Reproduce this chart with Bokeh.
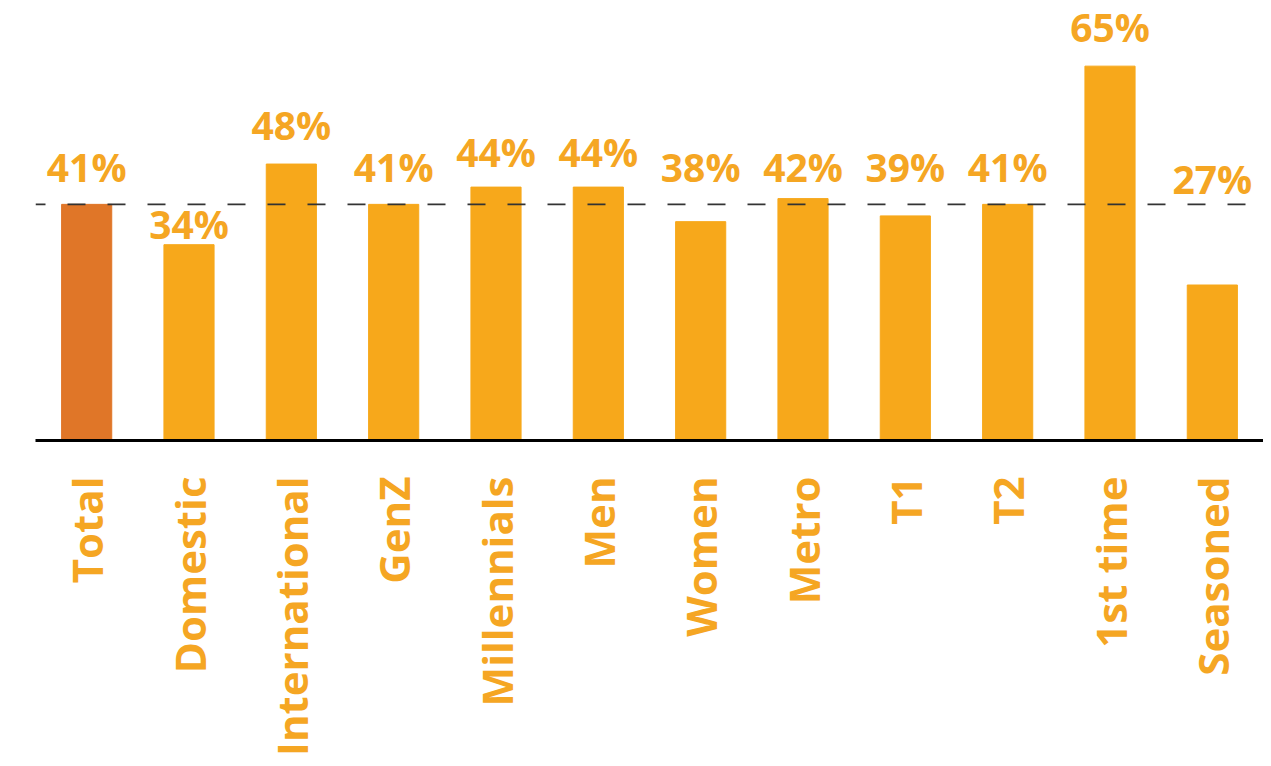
import math
from bokeh.plotting import figure
from bokeh.models import ColumnDataSource, Span, FactorRange, Range1d
from bokeh.core.properties import value
from bokeh.embed import file_html
from bokeh.resources import INLINE

categories = ["Total", "Domestic", "International", "GenZ", "Millennials", "Men",
              "Women", "Metro", "T1", "T2", "1st time", "Seasoned"]
values = [41, 34, 48, 41, 44, 44, 38, 42, 39, 41, 65, 27]
value_labels = ["41%", "34%", "48%", "41%", "44%", "44%", "38%", "42%", "39%", "41%", "65%", "27%"]
total_value = 41

# label anchor heights (in % units)
label_anchor = [45.1, 35.2, 52.4, 45.1, 47.7, 47.7, 45.1, 45.1, 45.1, 45.1, 69.4, 43.1]

BAR = "#F7A81B"
TOTAL = "#E07628"
TEXT = "#F5A623"

colors = [TOTAL] + [BAR] * (len(categories) - 1)

src = ColumnDataSource(dict(cat=categories, val=values, lab=value_labels,
                            ly=label_anchor, color=colors))

p = figure(x_range=FactorRange(factors=categories, range_padding=0),
           y_range=Range1d(0, 76.4),
           width=1263, height=758, output_backend="svg", toolbar_location=None,
           min_border_left=35, min_border_right=0, min_border_top=0, min_border_bottom=0)

p.vbar(x="cat", top="val", width=0.49, color="color", source=src)

p.add_layout(Span(location=total_value, dimension="width", line_color="#333333",
                  line_width=1.6, line_dash="18 22", line_dash_offset=8))

p.text(x="cat", y="ly", text="lab", source=src, text_align="center",
       text_baseline="alphabetic", y_offset=-14, text_font=value("Open Sans"),
       text_font_style="bold", text_font_size="39px", text_color=TEXT)

p.yaxis.visible = False
p.grid.visible = False
p.outline_line_color = None

ax = p.xaxis[0]
ax.axis_line_color = "black"
ax.axis_line_width = 3
ax.major_tick_line_color = None
ax.minor_tick_line_color = None
ax.major_label_orientation = math.pi / 2
ax.major_label_standoff = 30
ax.major_label_text_font = "Open Sans"
ax.major_label_text_font_style = "bold"
ax.major_label_text_font_size = "42px"
ax.major_label_text_color = TEXT

open("out.html", "w").write(file_html(p, INLINE))
